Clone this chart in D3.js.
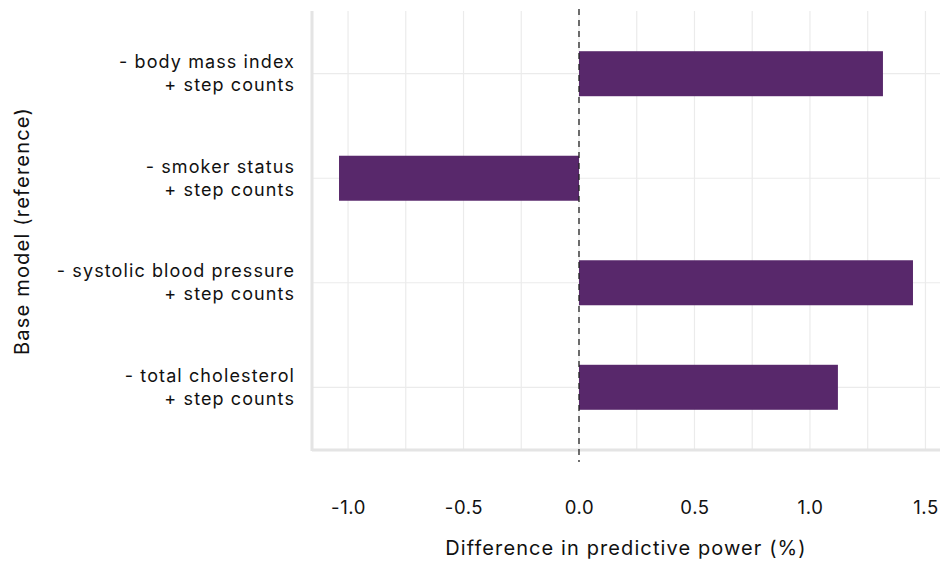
<!DOCTYPE html>
<html><head><meta charset="utf-8">
<script src="https://cdn.jsdelivr.net/npm/d3@7"></script>
<style>body{margin:0;background:#fff;} text{font-family:"Inter","Open Sans",sans-serif;fill:#111;}</style>
</head><body>
<svg id="c" width="940" height="561"></svg>
<script>
const categoriesLine1 = ["- body mass index", "- smoker status", "- systolic blood pressure", "- total cholesterol"];
const categoriesLine2 = ["+ step counts", "+ step counts", "+ step counts", "+ step counts"];
const values = [1.316, -1.039, 1.446, 1.121];
const xTicks = [-1.0, -0.5, 0.0, 0.5, 1.0, 1.5];
const xGrid = [-1.0, -0.75, -0.5, -0.25, 0, 0.25, 0.5, 0.75, 1.0, 1.25, 1.5];
const xTitle = "Difference in predictive power (%)";
const yTitle = "Base model (reference)";

const svg = d3.select("#c");
const L = 312, R = 940, T = 11, B = 450;
const x = d3.scaleLinear().domain([-1.156, 1.563]).range([L, R]);
const y = d3.scalePoint().domain(d3.range(categoriesLine1.length)).range([T, B]).padding(0.6);
const barH = 45;

// grid
svg.append("g").selectAll("line").data(xGrid).join("line")
  .attr("x1", d => x(d)).attr("x2", d => x(d)).attr("y1", T).attr("y2", B)
  .attr("stroke", "#ebebeb").attr("stroke-width", 1.2);
svg.append("g").selectAll("line").data(y.domain()).join("line")
  .attr("x1", L).attr("x2", R).attr("y1", d => y(d)).attr("y2", d => y(d))
  .attr("stroke", "#ebebeb").attr("stroke-width", 1.2);

// axis lines
svg.append("line").attr("x1", L).attr("x2", L).attr("y1", T).attr("y2", B + 1)
  .attr("stroke", "#e4e4e4").attr("stroke-width", 3);
svg.append("line").attr("x1", L).attr("x2", R).attr("y1", B).attr("y2", B)
  .attr("stroke", "#e4e4e4").attr("stroke-width", 3);

// bars
svg.append("g").selectAll("rect").data(values).join("rect")
  .attr("x", d => x(Math.min(0, d))).attr("width", d => Math.abs(x(d) - x(0)))
  .attr("y", (d, i) => y(i) - barH / 2).attr("height", barH)
  .attr("fill", "#58286b");

// zero dashed line
svg.append("line").attr("x1", x(0)).attr("x2", x(0)).attr("y1", T - 2).attr("y2", B + 12)
  .attr("stroke", "#222").attr("stroke-width", 1.3).attr("stroke-dasharray", "6,5");

// x tick labels
const xAxis = d3.axisBottom(x).tickValues(xTicks).tickSize(0).tickPadding(0)
  .tickFormat(d => d3.format(".1f")(d).replace("−", "-"));
const gx = svg.append("g").attr("transform", `translate(0,${B + 52})`).call(xAxis);
gx.select(".domain").remove();
gx.selectAll("text").attr("font-size", 18.5).attr("dy", "0.35em").attr("y", 6)
  .attr("letter-spacing", 0.6)
  .style("font-family", "Inter, 'Open Sans', sans-serif").attr("fill", "#111");

// y labels
const gy = svg.append("g");
categoriesLine1.forEach((c, i) => {
  const t = gy.append("text").attr("text-anchor", "end").attr("font-size", 18)
    .attr("letter-spacing", 1.1).attr("x", 295);
  t.append("tspan").attr("x", 295).attr("y", y(i) - 12).attr("dy", "0.35em").text(c);
  t.append("tspan").attr("x", 295).attr("y", y(i) + 11).attr("dy", "0.35em").text(categoriesLine2[i]);
});

// titles
svg.append("text").attr("x", 626).attr("y", 548).attr("dy", "0.35em").attr("text-anchor", "middle")
  .attr("font-size", 20).attr("letter-spacing", 1.1).text(xTitle);
svg.append("text").attr("transform", "translate(22,231) rotate(-90)").attr("dy", "0.35em")
  .attr("text-anchor", "middle").attr("font-size", 20).attr("letter-spacing", 1.2).text(yTitle);
</script>
</body></html>
